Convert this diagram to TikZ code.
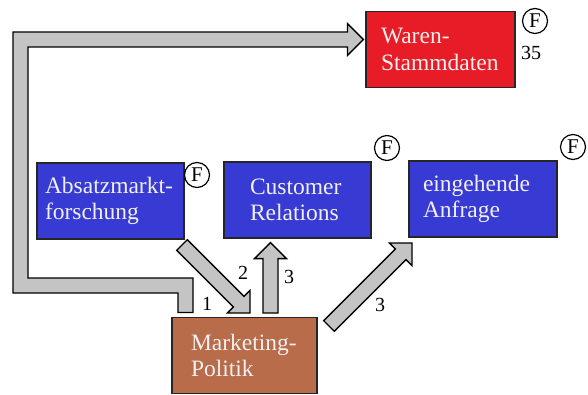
\documentclass[tikz,border=0pt]{standalone}
\usepackage{fontspec}
\setmainfont{Liberation Serif}
\usetikzlibrary{calc}
\definecolor{boxblue}{RGB}{56,58,212}
\definecolor{boxred}{RGB}{232,28,38}
\definecolor{boxbrown}{RGB}{184,108,74}
\definecolor{arrgray}{RGB}{196,196,196}
\tikzset{
  box/.style={draw=black!85, line width=1.2pt, minimum height=76pt, align=left,
    text=white!94!black, font=\fontsize{23.5}{26.5}\selectfont, inner ysep=0pt},
  fmark/.style={circle, draw, line width=1.2pt, inner sep=0pt, minimum size=25pt,
    font=\fontsize{21}{21}\selectfont},
  num/.style={font=\fontsize{20}{20}\selectfont, inner sep=0pt},
  barrow/.style={draw=black, line width=1.3pt, fill=arrgray, line join=miter},
}
\newcommand\blockarr[2]{%
  \coordinate (hb) at ($(#2)!16pt!(#1)$);
  \draw[barrow] ($(#1)!7.5pt!90:(#2)$) -- ($(hb)!7.5pt!90:(#2)$) -- ($(hb)!16pt!90:(#2)$)
    -- (#2) -- ($(hb)!16pt!-90:(#2)$) -- ($(hb)!7.5pt!-90:(#2)$) -- ($(#1)!7.5pt!-90:(#2)$) -- cycle;
}
\begin{document}
\begin{tikzpicture}[x=1pt,y=1pt]
\useasboundingbox (0,0) rectangle (588,-395);
% boxes
\node[box, fill=boxred, inner xsep=15pt, text width=119pt] (ws) at (440.5,-49.5) {Waren-\\Stammdaten};
\node[box, fill=boxblue, inner xsep=8pt, text width=131pt] (ab) at (110.5,-201) {Absatzmarkt-\\forschung};
\node[box, fill=boxblue, inner xsep=26pt, text width=95pt] (cr) at (297.5,-200) {Customer\\Relations};
\node[box, fill=boxblue, inner xsep=14pt, text width=120pt] (ea) at (483,-199) {eingehende\\Anfrage};
\node[box, fill=boxbrown, inner xsep=19pt, text width=107pt] (mk) at (244.5,-355.5) {Marketing-\\Politik};
% F marks
\node[fmark] (f1) at (535,-21) {F};
\node[fmark] (f2) at (197,-175) {F};
\node[fmark] (f3) at (387,-148) {F};
\node[fmark] (f4) at (573,-147) {F};
\node[num] (n35) at (531,-53) {35};
% L-shaped arrow from Marketing to Waren-Stammdaten
\coordinate (ls) at ($(mk.north)+(-59,4.5)$);
\coordinate (lc1) at (185.5,-285.5);
\coordinate (lc2) at (20.5,-285.5);
\coordinate (lc3) at (20.5,-39.5);
\coordinate (lt) at ($(ws.west)+(-2,10)$);
\draw[barrow] ($(ls)+(-7.5,0)$) -- ($(ls)+(7.5,0)$) -- ($(lc1)+(7.5,7.5)$) -- ($(lc2)+(7.5,7.5)$)
  -- ($(lc3)+(7.5,-7.5)$) -- ($(lt)+(-16,-7.5)$) -- ($(lt)+(-16,-16)$) -- (lt)
  -- ($(lt)+(-16,16)$) -- ($(lt)+(-16,7.5)$) -- ($(lc3)+(-7.5,7.5)$) -- ($(lc2)+(-7.5,-7.5)$)
  -- ($(lc1)+(-7.5,-7.5)$) -- cycle;
% block arrows
\coordinate (a1s) at (182,-245);
\coordinate (a1e) at (250,-313);
\coordinate (a2s) at (270.5,-313);
\coordinate (a2e) at ($(cr.south)+(-27,-4)$);
\coordinate (a3s) at (329,-326);
\coordinate (a3e) at (412,-243);
\blockarr{a1s}{a1e}
\blockarr{a2s}{a2e}
\blockarr{a3s}{a3e}
% labels
\node[num] (l1) at (207,-304) {1};
\node[num] (l2) at (243,-273) {2};
\node[num] (l3) at (289,-277) {3};
\node[num] (l4) at (380,-305) {3};
\end{tikzpicture}
\end{document}
